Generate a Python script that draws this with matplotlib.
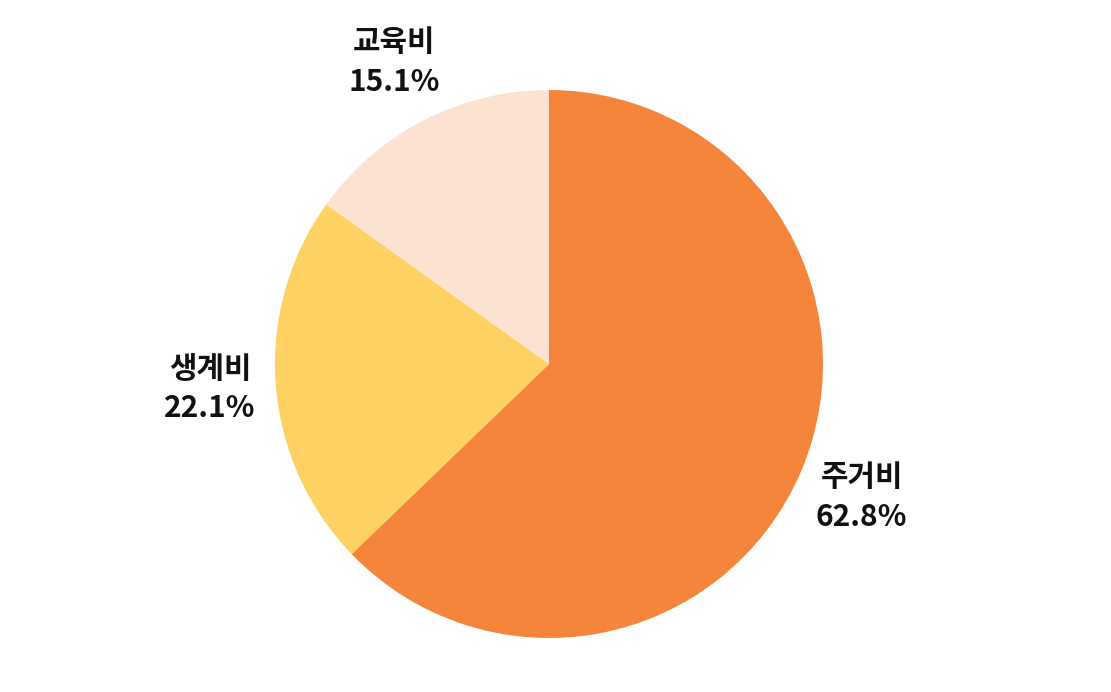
import matplotlib
matplotlib.use("Agg")
import matplotlib.pyplot as plt

plt.rcParams['font.family'] = ['Noto Sans CJK KR', 'DejaVu Sans']

categories = ["주거비", "생계비", "교육비"]
values = [62.8, 22.1, 15.1]
colors = ["#F5853B", "#FDD262", "#FCE2D0"]

fig = plt.figure(figsize=(11.11, 6.92), dpi=100)
cx, cy, r = 549, 692 - 364, 274
ax = fig.add_axes([(cx - r) / 1111, (cy - r) / 692, 2 * r / 1111, 2 * r / 692])

labels = [f"{c}\n{v:.1f}%" for c, v in zip(categories, values)]
wedges, texts = ax.pie(values, colors=colors, startangle=90, counterclock=False,
                       labels=labels, labeldistance=1.24, radius=1,
                       textprops=dict(fontsize=21.5, fontweight='bold', color='#111111',
                                      ha='center', va='center', linespacing=1.4))
ax.set_xlim(-1, 1)
ax.set_ylim(-1, 1)
ax.set_aspect('equal')
ax.axis('off')

fig.savefig("out.png", dpi=100)
